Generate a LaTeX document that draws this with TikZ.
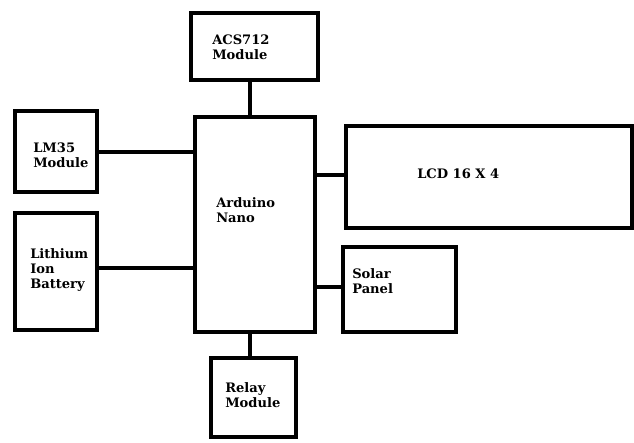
\documentclass[tikz,border=0pt]{standalone}
\usepackage{fontspec}
\setmainfont{DejaVu Serif}
\usetikzlibrary{fit}
\begin{document}
\begin{tikzpicture}[x=0.75pt,y=-0.75pt,
  box/.style={draw=black,line width=3.7pt,inner sep=0pt,fill=white},
  wire/.style={draw=black,line width=3.7pt},
  lbl/.style={anchor=base west,inner sep=0pt,align=left,
    font=\fontsize{9.8}{11.25}\selectfont\bfseries}]
\useasboundingbox[fill=white] (0,0) rectangle (634,442);
% boxes
\node[box,fit={(191,13)(318,80)}] (acs) {};
\node[box,fit={(195,117)(315,332)}] (ard) {};
\node[box,fit={(15,111)(97,192)}] (lm) {};
\node[box,fit={(15,213)(97,330)}] (bat) {};
\node[box,fit={(346,126)(632,228)}] (lcd) {};
\node[box,fit={(343,247)(456,332)}] (sol) {};
\node[box,fit={(211,358)(296,437)}] (rel) {};
% connectors
\coordinate (vx) at (250,0);
\draw[wire] (acs.south -| vx) -- (ard.north -| vx);
\draw[wire] (ard.south -| vx) -- (rel.north -| vx);
\coordinate (y1) at (0,152);
\coordinate (y2) at (0,268);
\coordinate (y3) at (0,175);
\coordinate (y4) at (0,287);
\draw[wire] (lm.east |- y1) -- (ard.west |- y1);
\draw[wire] (bat.east |- y2) -- (ard.west |- y2);
\draw[wire] (ard.east |- y3) -- (lcd.west |- y3);
\draw[wire] (ard.east |- y4) -- (sol.west |- y4);
% labels (anchored at the baseline of the last line)
\node[lbl] (tacs) at (212,60) {ACS712\\Module};
\node[lbl] (tard) at (216,222) {Arduino\\Nano};
\node[lbl] (tlm) at (33,167) {LM35\\Module};
\node[lbl] (tbat) at (30,288) {Lithium\\Ion\\Battery};
\node[lbl] (tlcd) at (417,178) {LCD 16 X 4};
\node[lbl] (tsol) at (352,293) {Solar\\Panel};
\node[lbl] (trel) at (225,407) {Relay\\Module};
\end{tikzpicture}
\end{document}
